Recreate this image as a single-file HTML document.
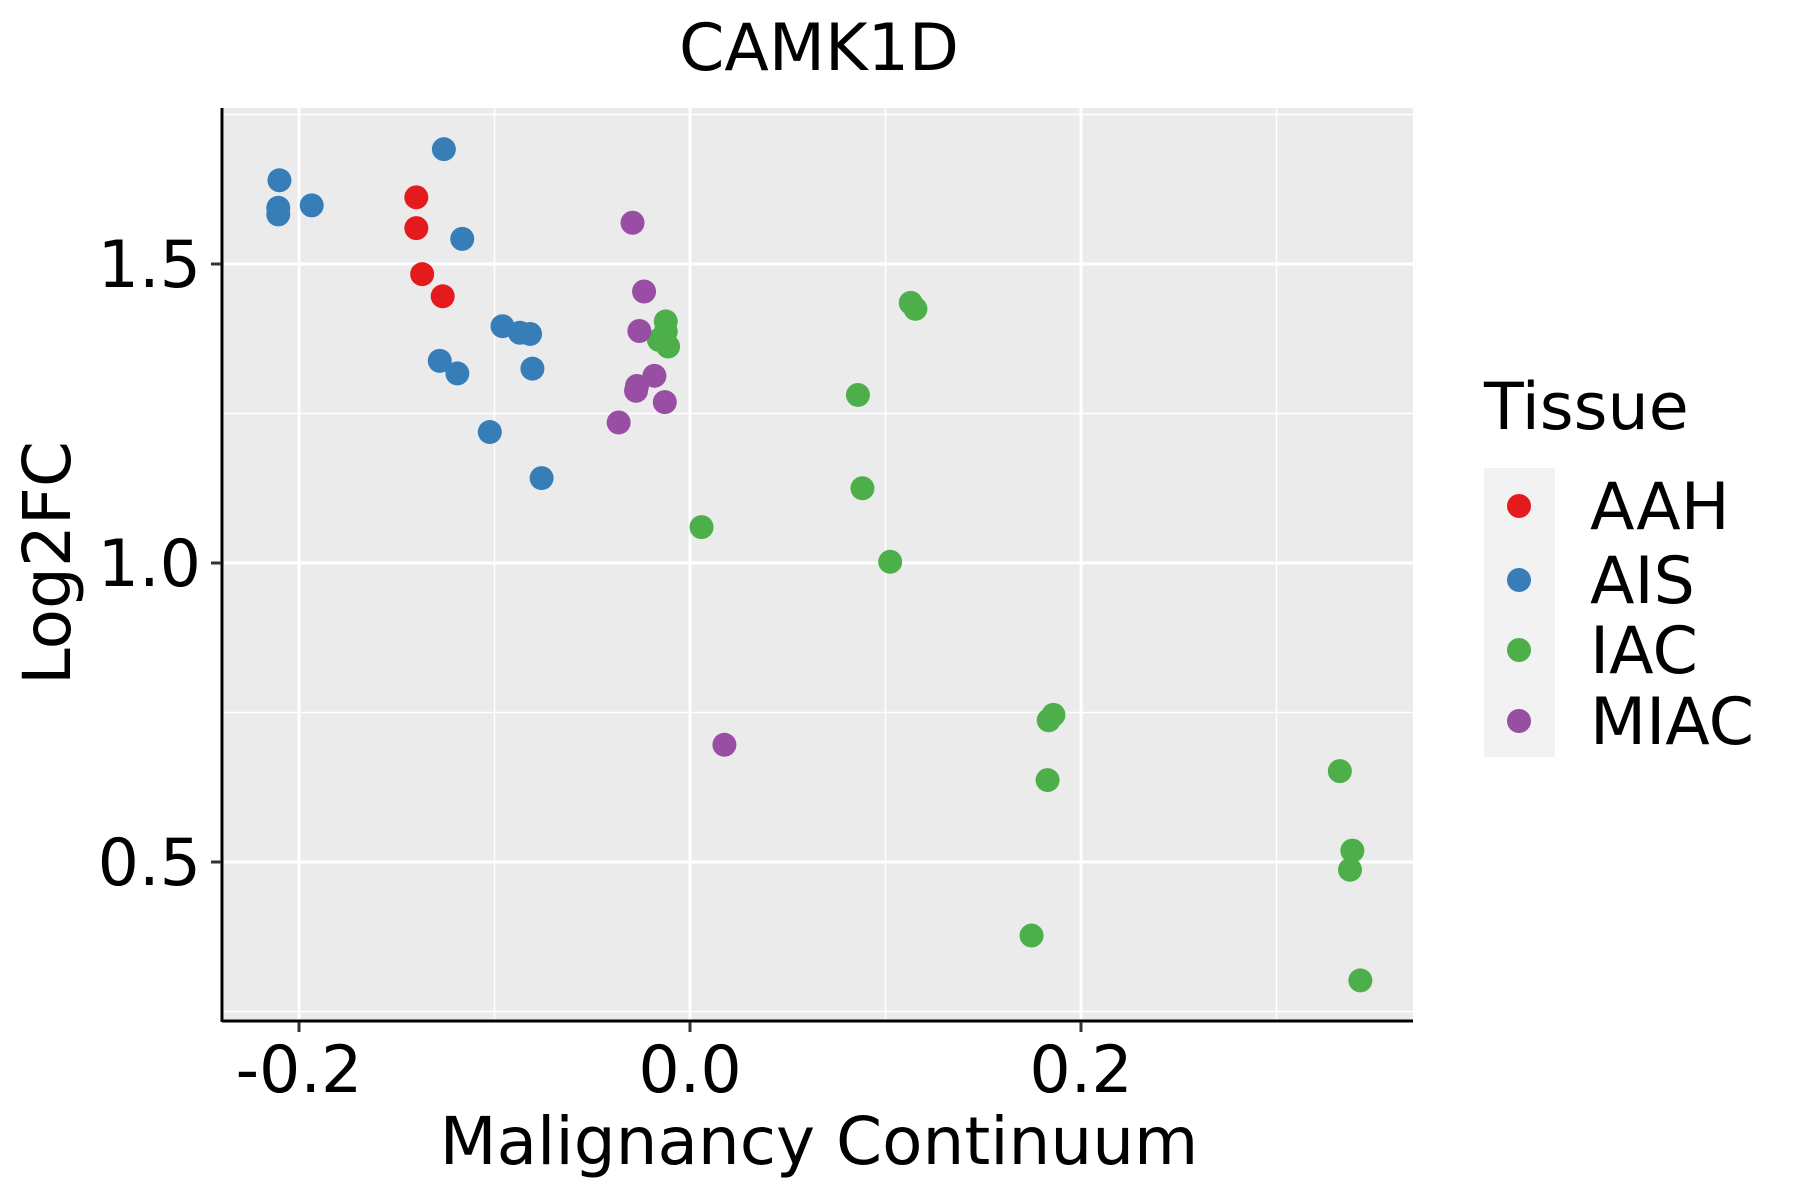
<!DOCTYPE html>
<html><head><meta charset="utf-8"><style>
html,body{margin:0;padding:0;background:#fff;}
svg{display:block;font-family:"DejaVu Sans","Liberation Sans",sans-serif;}
</style></head><body>
<svg id="chart" width="1800" height="1200" viewBox="0 0 1800 1200" xmlns="http://www.w3.org/2000/svg">
<text x="819" y="70" font-size="65" text-anchor="middle">CAMK1D</text>
<rect x="224" y="108" width="1189" height="912" fill="#ebebeb"/>
<g id="grid"></g>
<g id="points"></g>
<line x1="222" y1="108" x2="222" y2="1022" stroke="#000" stroke-width="3"/>
<line x1="222" y1="1021" x2="1413" y2="1021" stroke="#000" stroke-width="3"/>
<g id="ticks"></g>
<text x="819" y="1164" font-size="66" text-anchor="middle">Malignancy Continuum</text>
<text transform="translate(70,563) rotate(-90)" font-size="66" text-anchor="middle">Log2FC</text>
<g>
<text x="1484" y="429" font-size="65">Tissue</text>
<rect x="1484" y="468" width="71" height="289" fill="#f2f2f2"/>
<g id="legend-items"></g>
</g>
</svg>
<script>
const xTicks=[-0.2,0.0,0.2];
const xTickLabels=["-0.2","0.0","0.2"];
const xMinor=[-0.1,0.1,0.3];
const yTicks=[0.5,1.0,1.5];
const yTickLabels=["0.5","1.0","1.5"];
const yMinor=[0.25,0.75,1.25,1.75];
const groups=["AAH","AIS","IAC","MIAC"];
const colors=["#e41a1c","#377eb8","#4daf4a","#984ea3"];
const aahX=[-0.140,-0.140,-0.137,-0.1265];
const aahY=[1.6115,1.560,1.483,1.446];
const aisX=[-0.210,-0.2106,-0.2106,-0.1935,-0.1259,-0.1165,-0.0959,-0.087,-0.0818,-0.128,-0.119,-0.0806,-0.1024,-0.0759];
const aisY=[1.640,1.594,1.583,1.598,1.692,1.542,1.396,1.385,1.383,1.338,1.317,1.325,1.219,1.142];
const miacX=[-0.0294,-0.0235,-0.0259,-0.0182,-0.0271,-0.0276,-0.0129,-0.0365,0.0176];
const miacY=[1.569,1.454,1.388,1.313,1.296,1.288,1.269,1.235,0.696];
const iacX=[-0.0124,-0.0124,-0.0159,-0.0112,0.1129,0.1153,0.0859,0.0882,0.0059,0.1024,0.1859,0.1835,0.1829,0.1747,0.3324,0.3388,0.3376,0.3429];
const iacY=[1.404,1.387,1.373,1.362,1.435,1.425,1.281,1.125,1.060,1.002,0.746,0.737,0.637,0.377,0.652,0.519,0.487,0.302];

const NS="http://www.w3.org/2000/svg";
function sx(v){return 690+v*1955;}
function sy(v){return 264-(v-1.5)*598;}
function mk(tag,attrs,parent){const e=document.createElementNS(NS,tag);for(const k in attrs)e.setAttribute(k,attrs[k]);parent.appendChild(e);return e;}
const grid=document.getElementById('grid');
xMinor.forEach(v=>{const l=mk('line',{x1:sx(v),x2:sx(v),y1:108,y2:1020,stroke:'#fff','stroke-width':1.5},grid);

});
yMinor.forEach(v=>{const l=mk('line',{x1:224,x2:1413,y1:sy(v),y2:sy(v),stroke:'#fff','stroke-width':1.5},grid);

});
xTicks.forEach(v=>{const l=mk('line',{x1:sx(v),x2:sx(v),y1:108,y2:1020,stroke:'#fff','stroke-width':3},grid);

});
yTicks.forEach(v=>{const l=mk('line',{x1:224,x2:1413,y1:sy(v),y2:sy(v),stroke:'#fff','stroke-width':3},grid);

});
const ticks=document.getElementById('ticks');
xTicks.forEach((v,i)=>{const l=mk('line',{x1:sx(v),x2:sx(v),y1:1022,y2:1032,stroke:'#333','stroke-width':3},ticks);


const t=mk('text',{x:sx(v),y:1092,'font-size':65,'text-anchor':'middle'},ticks);t.textContent=xTickLabels[i];

});
yTicks.forEach((v,i)=>{const l=mk('line',{x1:211,x2:221,y1:sy(v),y2:sy(v),stroke:'#333','stroke-width':3},ticks);


const t=mk('text',{x:201,y:sy(v)+23,'font-size':65,'text-anchor':'end'},ticks);t.textContent=yTickLabels[i];

});
const pts=document.getElementById('points');
const series=[[aahX,aahY,0],[aisX,aisY,1],[iacX,iacY,2],[miacX,miacY,3]];
series.forEach(([xs,ys,g])=>{xs.forEach((x,i)=>{const c=mk('circle',{cx:sx(x),cy:sy(ys[i]),r:12,fill:colors[g]},pts);

});});
const li=document.getElementById('legend-items');
const legY=[506,580,650,721];
groups.forEach((g,i)=>{const c=mk('circle',{cx:1519,cy:legY[i],r:12,fill:colors[i]},li);


const t=mk('text',{x:1590,y:legY[i]+23,'font-size':65},li);t.textContent=g;

});
</script>
</body></html>
